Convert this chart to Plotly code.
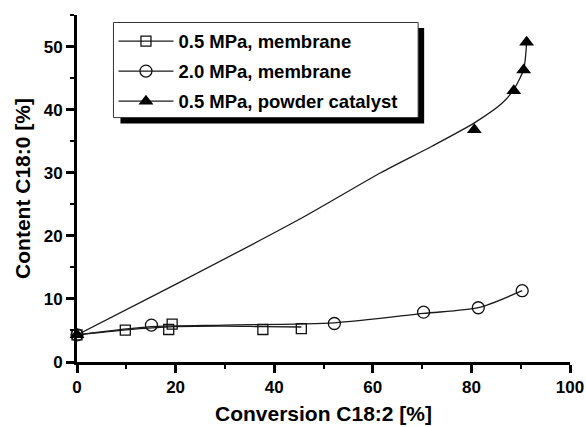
import plotly.graph_objects as go

# Measured points: conversion of C18:2 [%] vs. content of C18:0 [%]
sq_x = [0, 9.8, 18.6, 19.3, 37.7, 45.5]
sq_y = [4.3, 5.05, 5.15, 6.0, 5.15, 5.3]

ci_x = [0, 15.1, 52.2, 70.3, 81.4, 90.3]
ci_y = [4.3, 5.85, 6.1, 7.9, 8.6, 11.3]

tr_x = [0, 80.6, 88.6, 90.6, 91.2]
tr_y = [4.3, 36.8, 43.0, 46.3, 50.7]

# Trend curves drawn through each data set
sq_fit_x = [0, 10, 20, 30, 38, 45.5]
sq_fit_y = [4.3, 5.1, 5.6, 5.7, 5.6, 5.55]

ci_fit_x = [0, 15, 30, 52.2, 70.3, 81.4, 90.3]
ci_fit_y = [4.3, 5.6, 5.85, 6.2, 7.7, 8.6, 11.3]

tr_fit_x = [0, 20, 45.3, 61.6, 72, 80.6, 86.2, 88.6, 90.6, 91.2]
tr_fit_y = [4.3, 12.3, 22.7, 30.0, 34.2, 37.9, 41.0, 43.2, 46.4, 50.6]

names = ["0.5 MPa, membrane", "2.0 MPa, membrane", "0.5 MPa, powder catalyst"]

x_ticks = [0, 20, 40, 60, 80, 100]
y_ticks = [0, 10, 20, 30, 40, 50]

LINE = dict(color="#1a1a1a", width=1.3)
FONT = "Liberation Sans, Arial, sans-serif"

# plot area in pixels (used to place the legend frame in paper units)
L, R, T, B = 76.5, 570.0, 15.0, 361.7
W, H = R - L, B - T


def px_x(p):
    return (p - L) / W


def px_y(p):
    return (B - p) / H


fig = go.Figure()

# trend curves
for fx, fy in [(sq_fit_x, sq_fit_y), (ci_fit_x, ci_fit_y), (tr_fit_x, tr_fit_y)]:
    fig.add_trace(go.Scatter(x=fx, y=fy, mode="lines",
                             line=dict(shape="spline", smoothing=0.7, **LINE),
                             showlegend=False, hoverinfo="skip", cliponaxis=False))

markers = [
    dict(symbol="square-open", size=10, color="#111", line=dict(width=1.3, color="#111")),
    dict(symbol="circle-open", size=12, color="#111", line=dict(width=1.3, color="#111")),
    dict(symbol="triangle-up", size=13, color="#000", line=dict(width=0)),
]

# data markers
for (x, y), m in zip([(sq_x, sq_y), (ci_x, ci_y), (tr_x, tr_y)], markers):
    fig.add_trace(go.Scatter(x=x, y=y, mode="markers", marker=m,
                             showlegend=False, cliponaxis=False))

# legend entries
for i, (name, m) in enumerate(zip(names, markers)):
    fig.add_trace(go.Scatter(x=[None], y=[None], mode="lines+markers", name=f"<b>{name}</b>",
                             marker=m, line=LINE, legendgroup=f"g{i}"))

axis_common = dict(
    showline=True, linewidth=3, linecolor="#000",
    ticks="outside", ticklen=8, tickwidth=2.5, tickcolor="#000",
    showgrid=False, zeroline=False, automargin=False,
    tickfont=dict(family=FONT, size=17, color="#000"),
)

fig.update_layout(
    width=586, height=427,
    margin=dict(l=L, r=586 - R, t=T, b=427 - B),
    paper_bgcolor="white", plot_bgcolor="white",
    xaxis=dict(range=[0, 100], tickvals=x_ticks, ticktext=[f"<b>{v}</b>" for v in x_ticks],
               minor=dict(ticks="outside", ticklen=4, tickwidth=2, dtick=10, tickcolor="#000"),
               title=dict(text="<b>Conversion C18:2 [%]</b>", standoff=10,
                          font=dict(family=FONT, size=21, color="#000")),
               **axis_common),
    yaxis=dict(range=[0, 55], tickvals=y_ticks, ticktext=[f"<b>{v}</b>" for v in y_ticks],
               minor=dict(ticks="outside", ticklen=4, tickwidth=2, dtick=5, tickcolor="#000"),
               title=dict(text="<b>Content C18:0 [%]</b>", standoff=8,
                          font=dict(family=FONT, size=21, color="#000")),
               **axis_common),
    legend=dict(x=px_x(113), y=px_y(22.5), xanchor="left", yanchor="top",
                bgcolor="rgba(0,0,0,0)", borderwidth=0,
                font=dict(family=FONT, size=18.5, color="#000"),
                tracegroupgap=3, itemwidth=55),
    shapes=[
        # drop shadow and frame behind the legend
        dict(type="rect", xref="paper", yref="paper", layer="below",
             x0=px_x(120), x1=px_x(424), y0=px_y(123.5), y1=px_y(28),
             fillcolor="#000", line=dict(width=0)),
        dict(type="rect", xref="paper", yref="paper", layer="below",
             x0=px_x(113), x1=px_x(418), y0=px_y(117.5), y1=px_y(22.5),
             fillcolor="#fff", line=dict(width=1, color="#333")),
    ],
)

fig.write_html("out.html")
